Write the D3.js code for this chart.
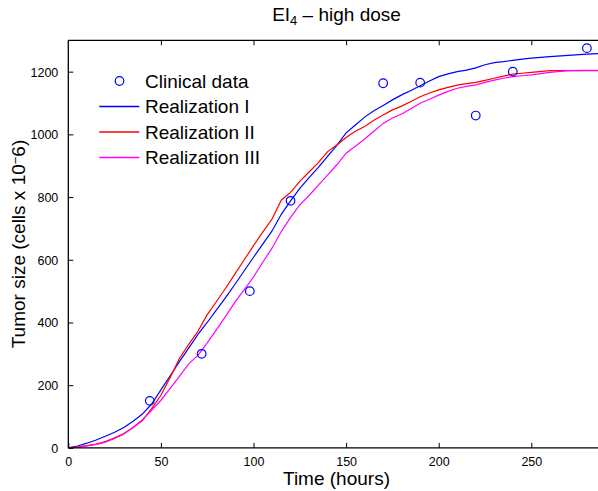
<!DOCTYPE html>
<html>
<head>
<meta charset="utf-8">
<script src="https://cdn.jsdelivr.net/npm/d3@7"></script>
<style>
  body { margin: 0; background: #fff; }
  svg { font-family: "Liberation Sans", Arial, sans-serif; display: block; }
</style>
</head>
<body>
<script>
// values
var clinicalTime = [44, 72, 98, 120, 170, 190, 220, 240, 280];
var clinicalSize = [150, 300, 500, 788, 1163, 1165, 1060, 1200, 1275];

var simTime = [0, 5, 10, 15, 20, 25, 30, 35, 40, 45, 50, 55, 60, 65, 70, 75, 80, 85, 90, 95,
  100, 105, 110, 115, 120, 125, 130, 135, 140, 145, 150, 155, 160, 165, 170, 175, 180, 185, 190, 195,
  200, 205, 210, 215, 220, 225, 230, 235, 240, 245, 250, 260, 270, 280, 290];
var realization1 = [0, 6, 15, 25, 37, 50, 65, 85, 108, 140, 185, 230, 275, 318, 362, 400, 440, 480, 522, 565,
  608, 650, 692, 745, 788, 828, 862, 895, 930, 965, 1005, 1030, 1055, 1075, 1092, 1110, 1126, 1140, 1155, 1170,
  1184, 1193, 1200, 1205, 1212, 1222, 1229, 1232, 1236, 1240, 1243, 1248, 1252, 1256, 1258];
var realization2 = [0, 3, 7, 12, 20, 32, 46, 65, 87, 125, 168, 225, 285, 330, 372, 425, 467, 510, 555, 600,
  645, 688, 730, 790, 815, 850, 880, 910, 945, 966, 990, 1010, 1025, 1045, 1062, 1078, 1090, 1105, 1120, 1132,
  1142, 1150, 1157, 1162, 1166, 1172, 1179, 1186, 1192, 1195, 1198, 1203, 1203, 1203, 1203];
var realization3 = [0, 2, 6, 11, 18, 30, 44, 65, 90, 120, 152, 190, 228, 268, 295, 335, 377, 420, 465, 505,
  545, 592, 637, 690, 735, 775, 805, 838, 870, 903, 940, 962, 985, 1010, 1035, 1052, 1065, 1082, 1099, 1112,
  1125, 1137, 1147, 1153, 1158, 1166, 1173, 1179, 1184, 1187, 1190, 1198, 1203, 1204, 1204];

var seriesNames = ["Realization I", "Realization II", "Realization III"];
var seriesColors = ["#0000ff", "#ff0000", "#ff00ff"];
var xTicks = [0, 50, 100, 150, 200, 250];
var yTicks = [0, 200, 400, 600, 800, 1000, 1200];

var W = 598, H = 491;
var plotL = 68.3, plotR = 605.4, plotT = 40.3, plotB = 447.9;

var svg = d3.select("body").append("svg").attr("width", W).attr("height", H);

var x = d3.scaleLinear().domain([0, 290]).range([plotL, plotR]);
var y = d3.scaleLinear().domain([0, 1300]).range([plotB, plotT]);

// clip for plotted data
svg.append("clipPath").attr("id", "plot")
  .append("rect").attr("x", plotL).attr("y", plotT).attr("width", plotR - plotL).attr("height", plotB - plotT);

var series = [realization1, realization2, realization3];
var line = d3.line()
  .x(function (d, i) { return x(simTime[i]); })
  .y(function (d) { return y(d); });

var g = svg.append("g").attr("clip-path", "url(#plot)");
series.forEach(function (s, k) {
  g.append("path").datum(s)
    .attr("d", line)
    .attr("fill", "none")
    .attr("stroke", seriesColors[k])
    .attr("stroke-width", 1.2);
});

g.selectAll("circle.pt").data(clinicalTime).enter().append("circle")
  .attr("class", "pt")
  .attr("cx", function (d) { return x(d); })
  .attr("cy", function (d, i) { return y(clinicalSize[i]); })
  .attr("r", 4.3)
  .attr("fill", "none")
  .attr("stroke", "#0000ff")
  .attr("stroke-width", 1.2);

// axes, ticks inward (matlab style)
var tickLen = 5;
var xBottom = svg.append("g").attr("transform", "translate(0," + plotB + ")")
  .call(d3.axisBottom(x).tickValues(xTicks).tickSize(-tickLen).tickPadding(tickLen + 4));
var xTop = svg.append("g").attr("transform", "translate(0," + plotT + ")")
  .call(d3.axisTop(x).tickValues(xTicks.slice(1)).tickSize(-tickLen).tickFormat(""));
var yLeft = svg.append("g").attr("transform", "translate(" + plotL + ",0)")
  .call(d3.axisLeft(y).tickValues(yTicks).tickSize(-tickLen).tickPadding(tickLen + 5)
    .tickFormat(d3.format("d")));

[xBottom, xTop, yLeft].forEach(function (a) {
  a.select(".domain").attr("stroke", "#000").attr("stroke-width", 1.3);
  a.selectAll(".tick line").attr("stroke", "#000").attr("stroke-width", 1);
  a.selectAll(".tick text").attr("fill", "#000").style("font-size", "12.5px")
    .style("font-family", "Liberation Sans, Arial, sans-serif");
});
xBottom.select(".domain").attr("d", "M" + plotL + ",0H" + plotR);
xTop.select(".domain").attr("d", "M" + plotL + ",0H" + plotR);
yLeft.select(".domain").attr("d", "M0," + plotB + "V" + plotT);
yLeft.selectAll(".tick text").attr("dy", "0.36em");

// title
var title = svg.append("text").attr("x", 336.5).attr("y", 21).attr("text-anchor", "middle")
  .style("font-size", "19px");
title.append("tspan").text("EI");
title.append("tspan").attr("baseline-shift", "-30%").style("font-size", "13px").text("4");
title.append("tspan").text(" \u2013 high dose");

// axis labels
svg.append("text").attr("x", 336.5).attr("y", 485).attr("text-anchor", "middle")
  .style("font-size", "19px").text("Time (hours)");

var yl = svg.append("text").attr("transform", "translate(25,244) rotate(-90)")
  .attr("text-anchor", "middle").style("font-size", "19px");
yl.append("tspan").text("Tumor size (cells x 10");
yl.append("tspan").attr("baseline-shift", "40%").style("font-size", "13px").text("\u2212");
yl.append("tspan").text("6)");

// legend
var legend = svg.append("g");
legend.append("circle").attr("cx", 119.5).attr("cy", 81).attr("r", 4.3)
  .attr("fill", "none").attr("stroke", "#0000ff").attr("stroke-width", 1.2);
legend.append("text").attr("x", 145).attr("y", 87.5).style("font-size", "19px").text("Clinical data");
seriesNames.forEach(function (name, k) {
  var yy = 106.5 + k * 25.5;
  legend.append("path")
    .attr("d", "M99.3," + yy + "H139.3")
    .attr("fill", "none")
    .style("stroke", seriesColors[k])
    .attr("stroke-width", 1.6);
  legend.append("text").attr("x", 145).attr("y", yy + 6.5).style("font-size", "19px").text(name);
});
</script>
</body>
</html>
